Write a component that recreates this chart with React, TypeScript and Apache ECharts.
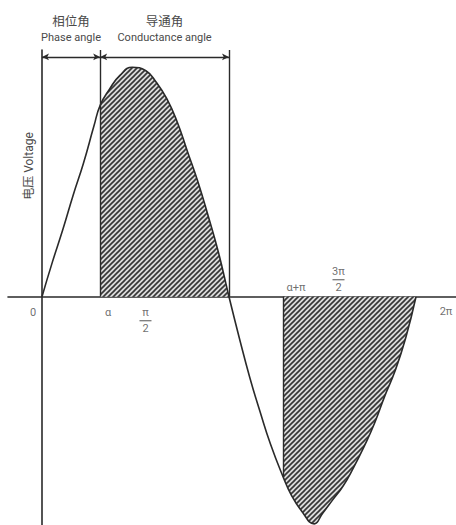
import { useEffect, useRef } from 'react';
import * as echarts from 'echarts';

// Wave: angle (degrees) and relative voltage
const angleDeg = [
  0, 10, 20, 30, 40, 50, 56, 65, 75, 87, 100, 110, 120, 130, 140, 150, 160, 170, 180,
  190, 200, 210, 220, 232, 240, 250, 262, 270, 280, 290, 300, 310, 320, 330, 340, 350, 360,
];
const voltage = [
  0, 0.15, 0.29, 0.44, 0.58, 0.74, 0.83, 0.9, 0.96, 0.995, 0.98, 0.93, 0.86, 0.76, 0.63, 0.5, 0.35, 0.19, 0,
  -0.18, -0.35, -0.5, -0.64, -0.78, -0.86, -0.93, -0.985, -0.94, -0.88, -0.82, -0.74, -0.65, -0.55, -0.43, -0.32, -0.18, 0,
];

// Key angles (degrees)
const alphaDeg = 56;
const piDeg = 180;
const alphaPiDeg = 232;
const twoPiDeg = 360;

// Tick labels on the x axis
const tickValues = [0, 56, 90, 232, 270, 360];
const tickLabels = ['0', 'α', 'π/2', 'α+π', '3π/2', '2π'];

// Headings
const headingCn = ['相位角', '导通角'];
const headingEn = ['Phase angle', 'Conductance angle'];
const axisTitle = '电压 Voltage';

const labelOffsets: Record<string, [number, number]> = {
  '0': [-9, 16],
  'α': [8, 16],
  'π/2': [10, 24],
  'α+π': [13, -9],
  '3π/2': [16, -17],
  '2π': [30, 15],
};

const INK = '#2a2a2a';
const TEXT = '#4a4a4a';
const DIM_Y = 1.04;
const Y_MAX = 1.07;
const Y_MIN = -0.99;
const SMOOTH = 0.5;

function makeHatch(): HTMLCanvasElement {
  const s = 5;
  const c = document.createElement('canvas');
  c.width = s;
  c.height = s;
  const ctx = c.getContext('2d')!;
  ctx.fillStyle = '#dcdcdc';
  ctx.fillRect(0, 0, s, s);
  ctx.strokeStyle = '#363636';
  ctx.lineWidth = 1.6;
  ctx.beginPath();
  for (const k of [0, s, 2 * s]) {
    ctx.moveTo(k + 1, -1);
    ctx.lineTo(k - s - 1, s + 1);
  }
  ctx.stroke();
  return c;
}

function fractionRich(label: string): string {
  const m = label.match(/^(.*)\/(.*)$/);
  if (!m) return `{t|${label}}`;
  return `{t|${m[1]}}\n{bar| }\n{t|${m[2]}}`;
}

export default function App() {
  const ref = useRef<HTMLDivElement>(null);

  useEffect(() => {
    const el = ref.current!;
    const chart = echarts.init(el, null, { renderer: 'svg' });
    const hatch = makeHatch();
    const pattern: any = { image: hatch, repeat: 'repeat', imageWidth: 5, imageHeight: 5 };

    const pairs = angleDeg.map((a, i) => [a, voltage[i]]);
    const upper = pairs.filter((p) => p[0] >= alphaDeg && p[0] <= piDeg);
    const lower = pairs.filter((p) => p[0] >= alphaPiDeg && p[0] <= twoPiDeg);
    const vAlphaPi = voltage[angleDeg.indexOf(alphaPiDeg)];

    const headingLabel = (i: number) => ({
      show: true,
      position: 'middle',
      distance: 12,
      formatter: `{cn|${headingCn[i]}}\n{gap| }\n{en|${headingEn[i]}}`,
      rich: {
        cn: { fontFamily: 'Noto Sans CJK SC', fontSize: 12.5, lineHeight: 14, color: TEXT, align: 'center' },
        gap: { fontSize: 2, lineHeight: 3 },
        en: { fontFamily: 'Roboto', fontSize: 11, lineHeight: 14, color: TEXT, align: 'center' },
      },
    });

    const option: any = {
      animation: false,
      backgroundColor: '#ffffff',
      grid: { left: 8, right: 0, top: 50, bottom: 0, containLabel: false },
      xAxis: {
        type: 'value',
        min: -32.7,
        max: 398.5,
        axisLine: { show: true, onZero: true, lineStyle: { color: INK, width: 1.6 } },
        axisTick: { show: false },
        axisLabel: { show: false },
        splitLine: { show: false },
      },
      yAxis: {
        type: 'value',
        min: Y_MIN,
        max: Y_MAX,
        axisLine: { show: true, onZero: true, lineStyle: { color: INK, width: 1.6 } },
        axisTick: { show: false },
        axisLabel: { show: false },
        splitLine: { show: false },
      },
      graphic: [
        {
          type: 'text',
          x: 29,
          y: 166,
          rotation: Math.PI / 2,
          style: {
            text: axisTitle,
            fontFamily: 'Roboto, "Noto Sans CJK SC"',
            fontSize: 12,
            fill: TEXT,
            textAlign: 'center',
            textVerticalAlign: 'middle',
          },
        },
      ],
      series: [
        {
          type: 'line',
          data: upper,
          smooth: SMOOTH,
          showSymbol: false,
          silent: true,
          lineStyle: { width: 0 },
          areaStyle: { color: pattern, opacity: 1 },
          z: 1,
        },
        {
          type: 'line',
          data: lower,
          smooth: SMOOTH,
          showSymbol: false,
          silent: true,
          lineStyle: { width: 0 },
          areaStyle: { color: pattern, opacity: 1 },
          z: 1,
        },
        {
          type: 'line',
          data: pairs,
          smooth: SMOOTH,
          showSymbol: false,
          silent: true,
          lineStyle: { color: INK, width: 1.6 },
          z: 3,
          markLine: {
            silent: true,
            symbol: 'none',
            animation: false,
            lineStyle: { color: INK, width: 1.4, type: 'solid' },
            label: { show: false },
            data: [
              [{ coord: [alphaDeg, 0] }, { coord: [alphaDeg, Y_MAX] }],
              [{ coord: [piDeg, 0] }, { coord: [piDeg, Y_MAX] }],
              [{ coord: [alphaPiDeg, 0] }, { coord: [alphaPiDeg, vAlphaPi] }],
              [
                { coord: [0, DIM_Y], symbol: 'arrow', symbolSize: [5, 7], label: headingLabel(0) },
                { coord: [alphaDeg, DIM_Y], symbol: 'arrow', symbolSize: [5, 7] },
              ],
              [
                { coord: [alphaDeg, DIM_Y], symbol: 'arrow', symbolSize: [5, 7], label: headingLabel(1) },
                { coord: [piDeg, DIM_Y], symbol: 'arrow', symbolSize: [5, 7] },
              ],
            ],
          },
        },
        {
          type: 'scatter',
          symbolSize: 0,
          silent: true,
          z: 4,
          data: tickValues.map((v, i) => ({
            value: [v, 0],
            name: tickLabels[i],
            label: { offset: labelOffsets[tickLabels[i]] },
          })),
          label: {
            show: true,
            position: 'inside',
            formatter: (p: any) => fractionRich(p.name),
            rich: {
              t: { fontFamily: 'Roboto', fontSize: 11, lineHeight: 12, color: TEXT, align: 'center' },
              bar: { width: 12, height: 1.2, lineHeight: 4, fontSize: 1, backgroundColor: TEXT, align: 'center' },
            },
          },
        },
      ],
    };

    chart.setOption(option);
    return () => chart.dispose();
  }, []);

  return (
    <div
      ref={ref}
      style={{ position: 'fixed', left: 0, top: 0, width: 456, height: 525, background: '#fff' }}
    />
  );
}
